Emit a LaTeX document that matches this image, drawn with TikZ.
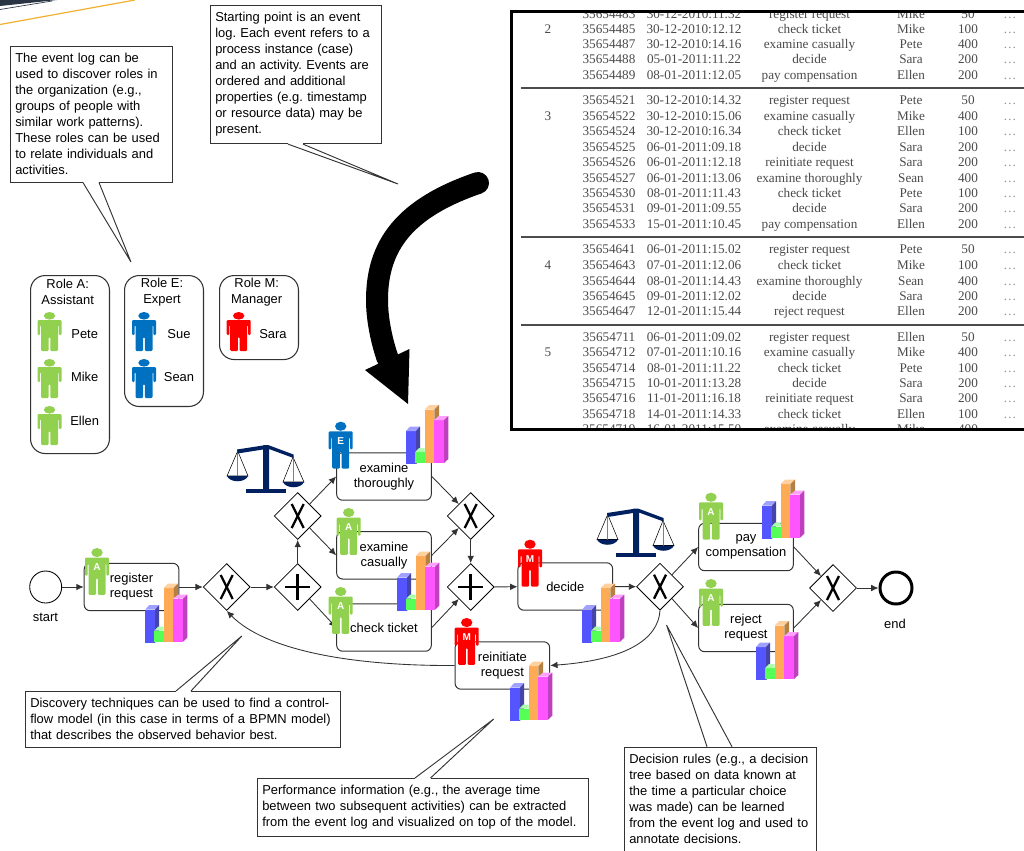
\documentclass[tikz,border=0pt]{standalone}
\usepackage{fontspec}
\setmainfont{Liberation Sans}
\newfontfamily\logfont{Liberation Serif}
\usetikzlibrary{arrows.meta,calc,shapes.geometric}
\frenchspacing
\definecolor{roleA}{HTML}{92D050}
\definecolor{roleE}{HTML}{0070C0}
\definecolor{roleM}{HTML}{FF0000}
\definecolor{scalenavy}{HTML}{002060}
\definecolor{linegray}{HTML}{333333}
\definecolor{logtext}{HTML}{4A4A4A}
\definecolor{bandgray}{HTML}{2B3444}
\definecolor{bandorange}{HTML}{F0B030}
\newcommand{\person}[6]{%
  \begin{scope}[shift={(#2,#3)},yscale=#4]
    \fill[#5] (0,3.8) ellipse (5.7 and 3.8);
    \fill[#5,rounded corners=0.8pt] (-12,8) -- (12,8) -- (12,23) -- (9.3,23) -- (9.3,13) -- (8.5,13)
      -- (8.5,39) -- (0.8,39) -- (0.8,25) -- (-0.8,25) -- (-0.8,39) -- (-8.5,39) -- (-8.5,13) -- (-9.3,13) -- (-9.3,23) -- (-12,23) -- cycle;
    \node[font=\bfseries\fontsize{7.5}{8}\selectfont,text=white,inner sep=0pt] (#1) at (0,16) {#6};
  \end{scope}}
\newcommand{\bars}[2]{%
  \begin{scope}[shift={(#1,#2)}]
    \fill[HTML=5555FF] (0,0) rectangle (10,-33);
    \fill[HTML=A0A0FF] (0,-33) -- (4,-37.5) -- (14,-37.5) -- (10,-33) -- cycle;
    \fill[HTML=4444AA] (10,0) -- (14,-4) -- (14,-37.5) -- (10,-33) -- cycle;
    \fill[HTML=55FF55] (9.3,-1) rectangle (18.5,-12);
    \fill[HTML=AAFFAA] (9.3,-12) -- (13,-16) -- (18.5,-16) -- (18.5,-12) -- cycle;
    \fill[HTML=FFAA55] (18.5,-1) rectangle (28.3,-54.5);
    \fill[HTML=FFD0A0] (18.5,-54.5) -- (23,-59) -- (33,-59) -- (28.3,-54.5) -- cycle;
    \fill[HTML=B58040] (28.3,-44) -- (28.3,-54.5) -- (33,-59) -- (33,-48) -- cycle;
    \fill[HTML=FF55FF] (28.3,-1) rectangle (38,-44);
    \fill[HTML=FFA0FF] (28.3,-44) -- (33,-48) -- (42.3,-48) -- (38,-44) -- cycle;
    \fill[HTML=BF40BF] (38,-1) -- (42.3,-5) -- (42.3,-48) -- (38,-44) -- cycle;
  \end{scope}}
\newcommand{\scales}[2]{%
  \begin{scope}[shift={(#1,#2)}]
    \draw[line width=0.4pt] (237.7,451) -- (227,476) -- (248,476) -- cycle;
    \draw[line width=0.4pt] (293,457) -- (283,482) -- (304,482) -- cycle;
    \draw[gray,line width=0.4pt] (237.7,451) -- (237.7,476) (293,457) -- (293,482);
    \fill[scalenavy] (227,476) .. controls (230,483) and (245,483) .. (248,476) -- cycle;
    \fill[scalenavy] (283,482) .. controls (286,489) and (301,489) .. (304,482) -- cycle;
    \fill[scalenavy] (237,449.5) -- (263,445.5) -- (263.5,445) -- (268,445) -- (293.5,454.5) -- (293.5,458)
      -- (269,449) -- (269,490) -- (263,490) -- (263,449.5) -- (237.5,453.5) -- cycle;
    \fill[scalenavy] (246,489) rectangle (286,493);
  \end{scope}}
\newcommand{\notetail}[4]{%
  \draw[white,line width=1.1pt] ($(#1)+(#2,0)$) -- ($(#1)+(#3,0)$);
  \draw[linegray,fill=white,line width=0.7pt] ($(#1)+(#2,0)$) -- (#4) -- ($(#1)+(#3,0)$);}
\tikzset{HTML/.code={\definecolor{barfill}{HTML}{#1}\tikzset{fill=barfill}}}
\begin{document}
\begin{tikzpicture}[x=0.75pt,y=-0.75pt]
  \useasboundingbox (0,0) rectangle (1024,850);
  \tikzstyle{note}=[draw=linegray,fill=white,line width=0.7pt,anchor=north west,align=left,inner xsep=3.6pt,inner ysep=5.3pt,font=\fontsize{9.7}{12}\selectfont]
  \tikzstyle{rolebox}=[draw=linegray,line width=0.8pt,rounded corners=11pt,anchor=north west,minimum width=59.2pt]
  \tikzstyle{rolelabel}=[align=center,inner sep=0pt,font=\fontsize{9.7}{12}\selectfont]
  \tikzstyle{who}=[inner sep=0pt,font=\fontsize{9.7}{12}\selectfont]
  \tikzstyle{task}=[draw=linegray,fill=white,line width=0.75pt,rounded corners=4.5pt,align=center,inner sep=0pt,minimum width=71pt,minimum height=35.6pt,font=\fontsize{9.7}{11.25}\selectfont]
  \tikzstyle{gate}=[diamond,draw=black,fill=white,aspect=1,inner sep=0pt,minimum size=35.25pt,line width=0.6pt]
  \tikzstyle{event}=[circle,draw=linegray,inner sep=0pt,minimum size=24pt]
  \tikzstyle{logcell}=[inner sep=0pt,text=logtext,text height=6.7pt,text depth=0pt,font=\logfont\fontsize{9.9}{12}\selectfont]
  \tikzset{flow/.style = {-{Latex[length=5.5pt,width=5pt]},draw=linegray,line width=0.65pt}}
  \tikzset{xgate/.style = {gate,path picture={
    \draw[line width=1.7pt] ([shift={(-4.5pt,9pt)}]path picture bounding box.center) -- ([shift={(4.5pt,-9pt)}]path picture bounding box.center);
    \draw[line width=1.7pt] ([shift={(-4.5pt,-9pt)}]path picture bounding box.center) -- ([shift={(4.5pt,9pt)}]path picture bounding box.center);}}}
  \tikzset{plusgate/.style = {gate,path picture={
    \draw[line width=2.2pt] ([xshift=-9.5pt]path picture bounding box.center) -- ([xshift=9.5pt]path picture bounding box.center);
    \draw[line width=2.2pt] ([yshift=-9.5pt]path picture bounding box.center) -- ([yshift=9.5pt]path picture bounding box.center);}}}

  \fill[bandgray] (0,0) -- (57,0) -- (0,6) -- cycle;
  \draw[bandgray,line width=0.5pt] (0,9.5) -- (52,1);
  \draw[bandorange,line width=0.9pt] (0,24.5) -- (135,0);

  \node[note,text width=114pt] (rolesnote) at (10,46) {The event log can be\\used to discover roles in\\the organization (e.g.,\\groups of people with\\similar work patterns).\\These roles can be used\\to relate individuals and\\activities.};
  \node[note,text width=121pt] (lognote) at (210,5) {Starting point is an event\\log. Each event refers to a\\process instance (case)\\and an activity. Events are\\ordered and additional\\properties (e.g. timestamp\\or resource data) may be\\present.};
  \node[note,text width=229pt] (flownote) at (25,691) {Discovery techniques can be used to find a control-\\flow model (in this case in terms of a BPMN model)\\that describes the observed behavior best.};
  \node[note,text width=241pt] (perfnote) at (257,778) {Performance information (e.g., the average time\\between two subsequent activities) can be extracted\\from the event log and visualized on top of the model.};
  \node[note,text width=136.5pt] (rulenote) at (624,746.7) {Decision rules (e.g., a decision\\tree based on data known at\\the time a particular choice\\was made) can be learned\\from the event log and used to\\annotate decisions.\rule[-8pt]{0pt}{1pt}};
  \coordinate (rolestip) at (131,262);
  \coordinate (logtip) at (398,184);
  \coordinate (flowtip) at (241.8,636);
  \coordinate (perftip) at (493.7,719);
  \coordinate (ruletip) at (666.5,625);
  \notetail{rolesnote.south west}{73}{89}{rolestip}
  \notetail{lognote.south west}{78}{93}{logtip}
  \notetail{flownote.north west}{151}{166}{flowtip}
  \notetail{perfnote.north west}{158}{173.5}{perftip}
  \notetail{rulenote.north west}{83}{108}{ruletip}

  \node[rolebox,minimum height=133.5pt] (roleAbox) at (30,275) {};
  \node[rolebox,minimum height=98.2pt] (roleEbox) at (124,275) {};
  \node[rolebox,minimum height=63pt] (roleMbox) at (219,275) {};
  \node[rolelabel] (roleAtitle) at (67.7,292) {Role A:\\Assistant};
  \node[rolelabel] (roleEtitle) at (162,292) {Role E:\\Expert};
  \node[rolelabel] (roleMtitle) at (256.7,292) {Role M:\\Manager};
  \person{petep}{49.5}{312}{1}{roleA}{}
  \person{mikep}{49.5}{359}{1}{roleA}{}
  \person{ellenp}{49.5}{406}{1}{roleA}{}
  \person{suep}{144}{312}{1}{roleE}{}
  \person{seanp}{144}{359}{1}{roleE}{}
  \person{sarap}{238.7}{312}{1}{roleM}{}
  \node[who] (pete) at (84.7,334) {Pete};
  \node[who] (mike) at (84.7,377.3) {Mike};
  \node[who] (ellen) at (84.7,421) {Ellen};
  \node[who] (sue) at (179,334) {Sue};
  \node[who] (sean) at (179,377.3) {Sean};
  \node[who] (sara) at (273,334) {Sara};

  \coordinate (bigstart) at (478,183);
  \coordinate (bigend) at (387.5,358);
  \coordinate (bigtip) at (408,404);
  \draw[line width=16.5pt,line cap=round] (bigstart) .. controls (405,208) and (377,245) .. (377,300) .. controls (377,320) and (382,342) .. (bigend);
  \fill (bigtip) -- (365,370) -- (409.5,349) -- cycle;

  \fill[white] (511.5,11.3) rectangle (1030,429);
  \begin{scope}
    \clip (511.5,11.3) rectangle (1030,429);
    \foreach \y/\id/\stamp/\act/\res/\cost in {
      14/35654483/30-12-2010:11.32/register request/Mike/50,
      29/35654485/30-12-2010:12.12/check ticket/Mike/100,
      44/35654487/30-12-2010:14.16/examine casually/Pete/400,
      59.5/35654488/05-01-2011:11.22/decide/Sara/200,
      75/35654489/08-01-2011:12.05/pay compensation/Ellen/200,
      100.5/35654521/30-12-2010:14.32/register request/Pete/50,
      116/35654522/30-12-2010:15.06/examine casually/Mike/400,
      131.5/35654524/30-12-2010:16.34/check ticket/Ellen/100,
      147/35654525/06-01-2011:09.18/decide/Sara/200,
      162.5/35654526/06-01-2011:12.18/reinitiate request/Sara/200,
      178/35654527/06-01-2011:13.06/examine thoroughly/Sean/400,
      193/35654530/08-01-2011:11.43/check ticket/Pete/100,
      208.5/35654531/09-01-2011:09.55/decide/Sara/200,
      224.5/35654533/15-01-2011:10.45/pay compensation/Ellen/200,
      249.5/35654641/06-01-2011:15.02/register request/Pete/50,
      265/35654643/07-01-2011:12.06/check ticket/Mike/100,
      281/35654644/08-01-2011:14.43/examine thoroughly/Sean/400,
      296/35654645/09-01-2011:12.02/decide/Sara/200,
      311/35654647/12-01-2011:15.44/reject request/Ellen/200,
      337.5/35654711/06-01-2011:09.02/register request/Ellen/50,
      352.5/35654712/07-01-2011:10.16/examine casually/Mike/400,
      368/35654714/08-01-2011:11.22/check ticket/Pete/100,
      383.5/35654715/10-01-2011:13.28/decide/Sara/200,
      398.5/35654716/11-01-2011:16.18/reinitiate request/Sara/200,
      414/35654718/14-01-2011:14.33/check ticket/Ellen/100,
      429.5/35654719/16-01-2011:15.50/examine casually/Mike/400} {
      \node[logcell] (id\id) at (609,\y) {\id};
      \node[logcell] (time\id) at (694,\y) {\stamp};
      \node[logcell] (act\id) at (809.5,\y) {\act};
      \node[logcell] (res\id) at (911,\y) {\res};
      \node[logcell] (cost\id) at (968,\y) {\cost};
      \node[logcell,text=logtext!60] (more\id) at (1010,\y) {\dots};
    }
    \node[logcell] (casetwo) at (548,29) {2};
    \node[logcell] (casethree) at (548,116) {3};
    \node[logcell] (casefour) at (548,265) {4};
    \node[logcell] (casefive) at (548,352.5) {5};
    \foreach \y in {88,237,325}
      \draw[black!70,line width=0.9pt] (521,\y) -- (1030,\y);
  \end{scope}
  \draw[line width=2.25pt] (1030,11.3) -- (511.5,11.3) -- (511.5,429) -- (1030,429);

  \node[event,draw=black,line width=0.65pt] (start) at (45.7,587) {};
  \node[inner sep=0pt,font=\fontsize{9.7}{12}\selectfont] (startlabel) at (45.5,617.5) {start};
  \node[task] (register) at (131.5,587) {register\\request};
  \node[xgate] (merge) at (226.7,587) {};
  \node[plusgate] (fork) at (297.7,587) {};
  \node[xgate] (choose) at (297.7,516) {};
  \node[task] (thoroughly) at (384,476.5) {examine\\thoroughly};
  \node[task] (casually) at (384,555.3) {examine\\casually};
  \node[task] (ticket) at (384,627.5) {check ticket};
  \node[xgate] (joined) at (470.7,516) {};
  \node[plusgate] (sync) at (470.7,587) {};
  \node[task] (decide) at (565.3,586.5) {decide};
  \node[task] (reinitiate) at (502.4,665.5) {reinitiate\\request};
  \node[xgate] (outcome) at (660,586.7) {};
  \node[task] (pay) at (746,547) {pay\\compensation};
  \node[task] (reject) at (746,628) {reject\\request};
  \node[xgate] (closing) at (833,588) {};
  \node[event,line width=2.25pt,draw=black] (end) at (896,588) {};
  \node[inner sep=0pt,font=\fontsize{9.7}{12}\selectfont] (endlabel) at (895,623.5) {end};

  \draw[flow] (start) -- (register);
  \draw[flow] (register) -- (merge);
  \draw[flow] (merge) -- (fork);
  \draw[flow] (fork) -- (choose);
  \draw[flow] (choose.north east) -- (thoroughly.west);
  \draw[flow] (choose.south east) -- (casually.west);
  \draw[flow] (fork.south east) -- (ticket.west);
  \draw[flow] (thoroughly.east) -- (joined.north west);
  \draw[flow] (casually.east) -- (joined.south west);
  \draw[flow] (ticket.east) -- (sync.south west);
  \draw[flow] (joined) -- (sync);
  \draw[flow] (sync) -- (decide);
  \draw[flow] (decide) -- (outcome);
  \draw[flow] (outcome.north east) -- (pay.west);
  \draw[flow] (outcome.south east) -- (reject.west);
  \draw[flow] (pay.east) -- (closing.north west);
  \draw[flow] (reject.east) -- (closing.south west);
  \draw[flow] (closing) -- (end);
  \draw[flow] (outcome.south) .. controls (658,640) and (625,660) .. (reinitiate.east);
  \draw[flow] (reinitiate.west) .. controls (350,666) and (265,650) .. (merge.south);

  \scales{0}{0}
  \scales{370}{63.5}

  \bars{145}{642.7}
  \bars{406}{464}
  \bars{397}{610.7}
  \bars{582}{642.7}
  \bars{510}{720.7}
  \bars{762}{538.7}
  \bars{756}{680}

  \person{registerp}{97}{548}{1.2}{roleA}{A}
  \person{thoroughlyp}{340.7}{421.7}{1.2}{roleE}{E}
  \person{casuallyp}{348.7}{508}{1.2}{roleA}{A}
  \person{ticketp}{340.7}{587}{1.2}{roleA}{A}
  \person{decidep}{530}{539.7}{1.2}{roleM}{M}
  \person{reinitiatep}{466.7}{618}{1.2}{roleM}{M}
  \person{payp}{711}{492.7}{1.2}{roleA}{A}
  \person{rejectp}{711}{579}{1.2}{roleA}{A}
\end{tikzpicture}
\end{document}
